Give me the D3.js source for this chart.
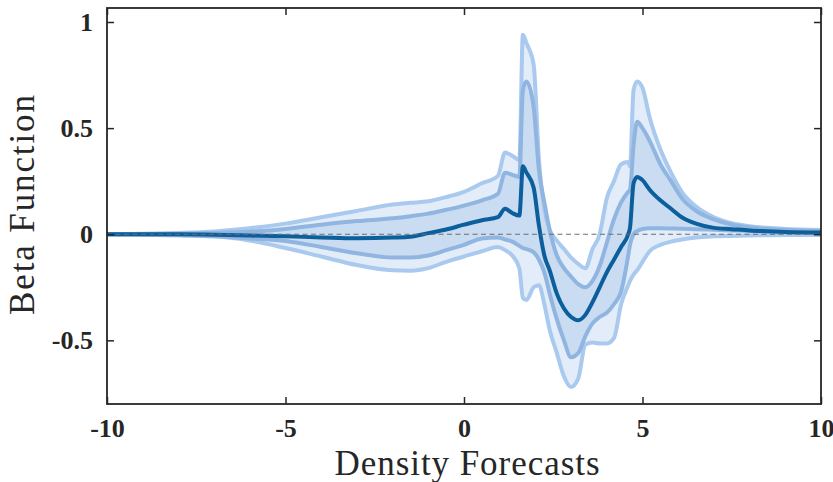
<!DOCTYPE html>
<html>
<head>
<meta charset="utf-8">
<script src="https://cdn.jsdelivr.net/npm/d3@7"></script>
<style>
  html, body { margin: 0; padding: 0; background: #fff; }
  svg { display: block; }
</style>
</head>
<body>
<svg id="chart" width="833" height="482"></svg>
<script>
// Grid of density-forecast values (x) shared by all curves
const xs = [-10, -9, -8, -7, -6, -5, -4, -3, -2, -1.5, -1, -0.5, 0, 0.5, 0.95, 1.15, 1.35, 1.55, 1.65, 1.75, 1.95, 2.1, 2.25, 2.4, 2.6, 2.8, 3.0, 3.2, 3.4, 3.6, 3.8, 4.0, 4.2, 4.4, 4.6, 4.65, 4.75, 4.85, 5.0, 5.2, 5.5, 5.8, 6.1, 6.5, 7.0, 7.5, 8.0, 8.5, 9.0, 10];

// Posterior median of the beta function
const median = [0, 0, 0, -0.002, -0.006, -0.01, -0.015, -0.019, -0.016, -0.012, 0.005, 0.022, 0.045, 0.066, 0.08, 0.12, 0.1, 0.088, 0.32, 0.29, 0.22, 0.04, -0.1, -0.17, -0.28, -0.35, -0.39, -0.405, -0.38, -0.32, -0.25, -0.18, -0.12, -0.06, 0.0, 0.03, 0.24, 0.27, 0.255, 0.21, 0.16, 0.12, 0.08, 0.05, 0.03, 0.024, 0.018, 0.014, 0.011, 0.008];

// Inner credible band (upper / lower)
const innerUpper = [0, 0.001, 0.002, 0.006, 0.012, 0.025, 0.045, 0.062, 0.075, 0.085, 0.097, 0.115, 0.135, 0.16, 0.19, 0.29, 0.28, 0.27, 0.68, 0.72, 0.6, 0.3, 0.15, 0.02, -0.1, -0.16, -0.2, -0.235, -0.25, -0.22, -0.15, -0.04, 0.07, 0.15, 0.2, 0.21, 0.42, 0.53, 0.5, 0.44, 0.33, 0.25, 0.17, 0.11, 0.07, 0.045, 0.032, 0.025, 0.02, 0.015];
const innerLower = [0, -0.001, -0.004, -0.01, -0.02, -0.032, -0.06, -0.09, -0.11, -0.11, -0.1, -0.075, -0.05, -0.02, -0.015, -0.025, -0.035, -0.055, -0.065, -0.07, -0.085, -0.12, -0.18, -0.28, -0.4, -0.5, -0.58, -0.56, -0.48, -0.42, -0.39, -0.37, -0.33, -0.27, -0.1, -0.05, 0.0, 0.015, 0.025, 0.028, 0.028, 0.027, 0.026, 0.024, 0.021, 0.018, 0.015, 0.013, 0.011, 0.008];

// Outer credible band (upper / lower)
const outerUpper = [0, 0.002, 0.006, 0.013, 0.028, 0.05, 0.08, 0.11, 0.14, 0.148, 0.155, 0.175, 0.2, 0.24, 0.275, 0.385, 0.37, 0.35, 0.94, 0.9, 0.8, 0.35, 0.12, 0.02, -0.03, -0.07, -0.11, -0.14, -0.16, -0.07, 0.0, 0.17, 0.25, 0.33, 0.34, 0.32, 0.68, 0.72, 0.69, 0.55, 0.4, 0.29, 0.2, 0.13, 0.08, 0.052, 0.038, 0.03, 0.025, 0.02];
const outerLower = [0, -0.002, -0.006, -0.01, -0.03, -0.065, -0.105, -0.145, -0.17, -0.172, -0.16, -0.13, -0.105, -0.08, -0.06, -0.075, -0.1, -0.16, -0.3, -0.31, -0.25, -0.24, -0.33, -0.45, -0.56, -0.67, -0.72, -0.68, -0.52, -0.51, -0.515, -0.515, -0.49, -0.33, -0.24, -0.22, -0.19, -0.17, -0.13, -0.08, -0.05, -0.035, -0.025, -0.015, -0.01, -0.008, -0.006, -0.005, -0.004, -0.004];

// Axis ticks
const xTicks = [-10, -5, 0, 5, 10];
const yTicks = [-0.5, 0, 0.5, 1];
const xTickLabels = ["-10", "-5", "0", "5", "10"];
const yTickLabels = ["-0.5", "0", "0.5", "1"];

const svg = d3.select("#chart");
const W = 833, H = 482;
const margin = { left: 107, right: 12, top: 8, bottom: 78 };
const iw = W - margin.left - margin.right;
const ih = H - margin.top - margin.bottom;

const x = d3.scaleLinear().domain([-10, 10]).range([0, iw]);
const y = d3.scaleLinear().domain([-0.8, 1.066]).range([ih, 0]);

const g = svg.append("g").attr("transform", `translate(${margin.left},${margin.top})`);

const defs = svg.append("defs");
defs.append("clipPath").attr("id", "plotClip")
  .append("rect").attr("width", iw).attr("height", ih);

const plot = g.append("g").attr("clip-path", "url(#plotClip)");

const idx = d3.range(xs.length);
const curve = d3.curveMonotoneX;

const area = (lo, hi) => d3.area()
  .x(i => x(xs[i])).y0(i => y(lo[i])).y1(i => y(hi[i])).curve(curve);
const line = (vals) => d3.line()
  .x(i => x(xs[i])).y(i => y(vals[i])).curve(curve);

// Outer band fill
plot.append("path").datum(idx).attr("d", area(outerLower, outerUpper))
  .attr("fill", "#e3edf9");
// Inner band fill
plot.append("path").datum(idx).attr("d", area(innerLower, innerUpper))
  .attr("fill", "#c9dcf2");

// Band edges
[outerUpper, outerLower].forEach(v => {
  plot.append("path").datum(idx).attr("d", line(v))
    .attr("fill", "none").attr("stroke", "#a9c9ef").attr("stroke-width", 4)
    .attr("stroke-linejoin", "round").attr("stroke-linecap", "round");
});
[innerUpper, innerLower].forEach(v => {
  plot.append("path").datum(idx).attr("d", line(v))
    .attr("fill", "none").attr("stroke", "#90b5e0").attr("stroke-width", 4)
    .attr("stroke-linejoin", "round").attr("stroke-linecap", "round");
});

// Median curve
plot.append("path").datum(idx).attr("d", line(median))
  .attr("fill", "none").attr("stroke", "#0b5f9d").attr("stroke-width", 4)
  .attr("stroke-linejoin", "round").attr("stroke-linecap", "round");

// Zero reference line
plot.append("line")
  .attr("x1", 0).attr("x2", iw).attr("y1", y(0)).attr("y2", y(0))
  .attr("stroke", "#6e6e6e").attr("stroke-width", 1.2)
  .attr("stroke-dasharray", "5,3.5");

// Axes with inward ticks on all four sides
const tickLen = 7;
const fmtX = d => xTickLabels[xTicks.indexOf(d)];
const fmtY = d => yTickLabels[yTicks.indexOf(d)];

const xAxis = g.append("g").attr("transform", `translate(0,${ih})`)
  .call(d3.axisBottom(x).tickValues(xTicks).tickFormat(fmtX).tickSizeInner(-tickLen).tickSizeOuter(0).tickPadding(15));
const xAxisTop = g.append("g")
  .call(d3.axisTop(x).tickValues(xTicks).tickFormat("").tickSizeInner(-tickLen).tickSizeOuter(0));
const yAxis = g.append("g")
  .call(d3.axisLeft(y).tickValues(yTicks).tickFormat(fmtY).tickSizeInner(-tickLen).tickSizeOuter(0).tickPadding(14));
const yAxisRight = g.append("g").attr("transform", `translate(${iw},0)`)
  .call(d3.axisRight(y).tickValues(yTicks).tickFormat("").tickSizeInner(-tickLen).tickSizeOuter(0));

[xAxis, xAxisTop, yAxis, yAxisRight].forEach(a => {
  a.select(".domain").remove();
  a.selectAll(".tick line").attr("stroke", "#262626").attr("stroke-width", 1.5);
  a.selectAll(".tick text")
    .attr("fill", "#262626")
    .style("font-family", "'Liberation Serif', 'Times New Roman', serif")
    .style("font-weight", "bold")
    .style("font-size", "26px");
});

// Box frame
g.append("rect").attr("width", iw).attr("height", ih)
  .attr("fill", "none").attr("stroke", "#262626").attr("stroke-width", 1.8);

// Axis titles
svg.append("text")
  .attr("x", 467).attr("y", 475)
  .attr("text-anchor", "middle")
  .attr("textLength", 265)
  .style("font-family", "'Liberation Serif', 'Times New Roman', serif")
  .style("font-size", "35px")
  .attr("fill", "#262626")
  .text("Density Forecasts");

svg.append("text")
  .attr("transform", "translate(34,205) rotate(-90)")
  .attr("text-anchor", "middle")
  .attr("textLength", 220)
  .style("font-family", "'Liberation Serif', 'Times New Roman', serif")
  .style("font-size", "35px")
  .attr("fill", "#262626")
  .text("Beta Function");
</script>
</body>
</html>
